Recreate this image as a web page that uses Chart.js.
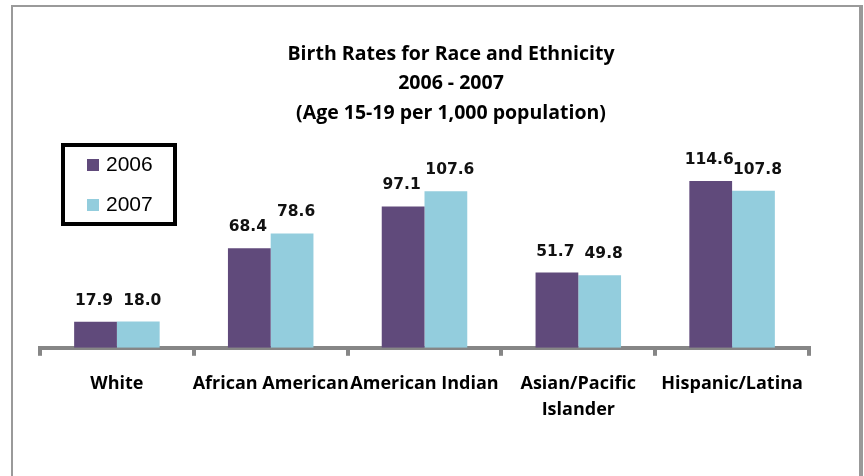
<!DOCTYPE html>
<html>
<head>
<meta charset="utf-8">
<script src="https://cdn.jsdelivr.net/npm/chart.js@4.4.1/dist/chart.umd.min.js"></script>
<style>
  html, body { margin: 0; padding: 0; background: #fff; }
  #wrap { position: relative; width: 864px; height: 476px; }
  #frame {
    position: absolute; left: 11px; top: 5px; width: 846px; height: 469px;
    border-left: 2px solid #9a9a9a; border-top: 2px solid #9a9a9a;
    border-right: 4px solid #999; border-bottom: 1px solid #d0d0d0;
    pointer-events: none;
  }
  canvas { position: absolute; left: 0; top: 0; }
</style>
</head>
<body>
<div id="wrap">
  <canvas id="chart" width="864" height="476"></canvas>
  <div id="frame"></div>
</div>
<script>
const categories = ['White', 'African American', 'American Indian', ['Asian/Pacific', 'Islander'], 'Hispanic/Latina'];
const series2006 = [17.9, 68.4, 97.1, 51.7, 114.6];
const series2007 = [18.0, 78.6, 107.6, 49.8, 107.8];
const titleLines = ['Birth Rates for Race and Ethnicity', '2006 - 2007', '(Age 15-19 per 1,000 population)'];

const axisGray = '#868686';

// title drawn as three centered lines
const titleBlock = {
  id: 'titleBlock',
  afterDraw(chart) {
    const ctx = chart.ctx;
    ctx.save();
    ctx.fillStyle = '#000';
    ctx.font = "bold 19.5px 'Open Sans', sans-serif";
    ctx.textAlign = 'center';
    ctx.textBaseline = 'middle';
    titleLines.forEach((line, i) => ctx.fillText(line, 451, 54 + i * 29.5));
    ctx.restore();
  },
};

// boxed legend in the upper left
const boxLegend = {
  id: 'boxLegend',
  afterDraw(chart) {
    const ctx = chart.ctx;
    ctx.save();
    ctx.strokeStyle = '#000';
    ctx.lineWidth = 4;
    ctx.strokeRect(63, 145, 112, 79);
    ctx.font = "21px 'Liberation Sans', sans-serif";
    ctx.textBaseline = 'middle';
    chart.data.datasets.forEach((ds, i) => {
      const y = 165 + i * 40;
      ctx.fillStyle = ds.backgroundColor;
      ctx.fillRect(87, y - 6, 12, 12);
      ctx.fillStyle = '#000';
      ctx.fillText(ds.label, 106, y);
    });
    ctx.restore();
  },
};

// values above the bars
const valueLabels = {
  id: 'valueLabels',
  afterDatasetsDraw(chart) {
    const ctx = chart.ctx;
    ctx.save();
    ctx.fillStyle = '#111';
    ctx.font = "bold 15.5px 'DejaVu Sans', sans-serif";
    ctx.textAlign = 'center';
    ctx.textBaseline = 'alphabetic';
    chart.data.datasets.forEach((ds, i) => {
      chart.getDatasetMeta(i).data.forEach((bar, j) => {
        ctx.fillText(ds.data[j].toFixed(1), bar.x + (i === 1 ? 4 : -1.5), bar.y - 17);
      });
    });
    ctx.restore();
  },
};

new Chart(document.getElementById('chart'), {
  type: 'bar',
  data: {
    labels: categories,
    datasets: [
      { label: '2006', data: series2006, backgroundColor: '#604A7B', categoryPercentage: 0.556, barPercentage: 1.0 },
      { label: '2007', data: series2007, backgroundColor: '#93CDDD', categoryPercentage: 0.556, barPercentage: 1.0 },
    ],
  },
  options: {
    responsive: false,
    animation: false,
    layout: { padding: { left: 40, right: 55, top: 144, bottom: 38 } },
    plugins: { legend: { display: false }, title: { display: false }, tooltip: { enabled: false } },
    scales: {
      x: {
        z: 1,
        grid: { display: true, drawOnChartArea: false, drawTicks: true, tickLength: 8, lineWidth: 4, color: axisGray, offset: true },
        border: { display: true, color: axisGray, width: 4 },
        ticks: {
          autoSkip: false, maxRotation: 0, minRotation: 0, padding: 15, color: '#000',
          font: { family: "'Open Sans', sans-serif", size: 18, weight: 'bold', lineHeight: 1.45 },
        },
      },
      y: { display: false, min: 0, max: 140 },
    },
  },
  plugins: [titleBlock, boxLegend, valueLabels],
});
</script>
</body>
</html>
